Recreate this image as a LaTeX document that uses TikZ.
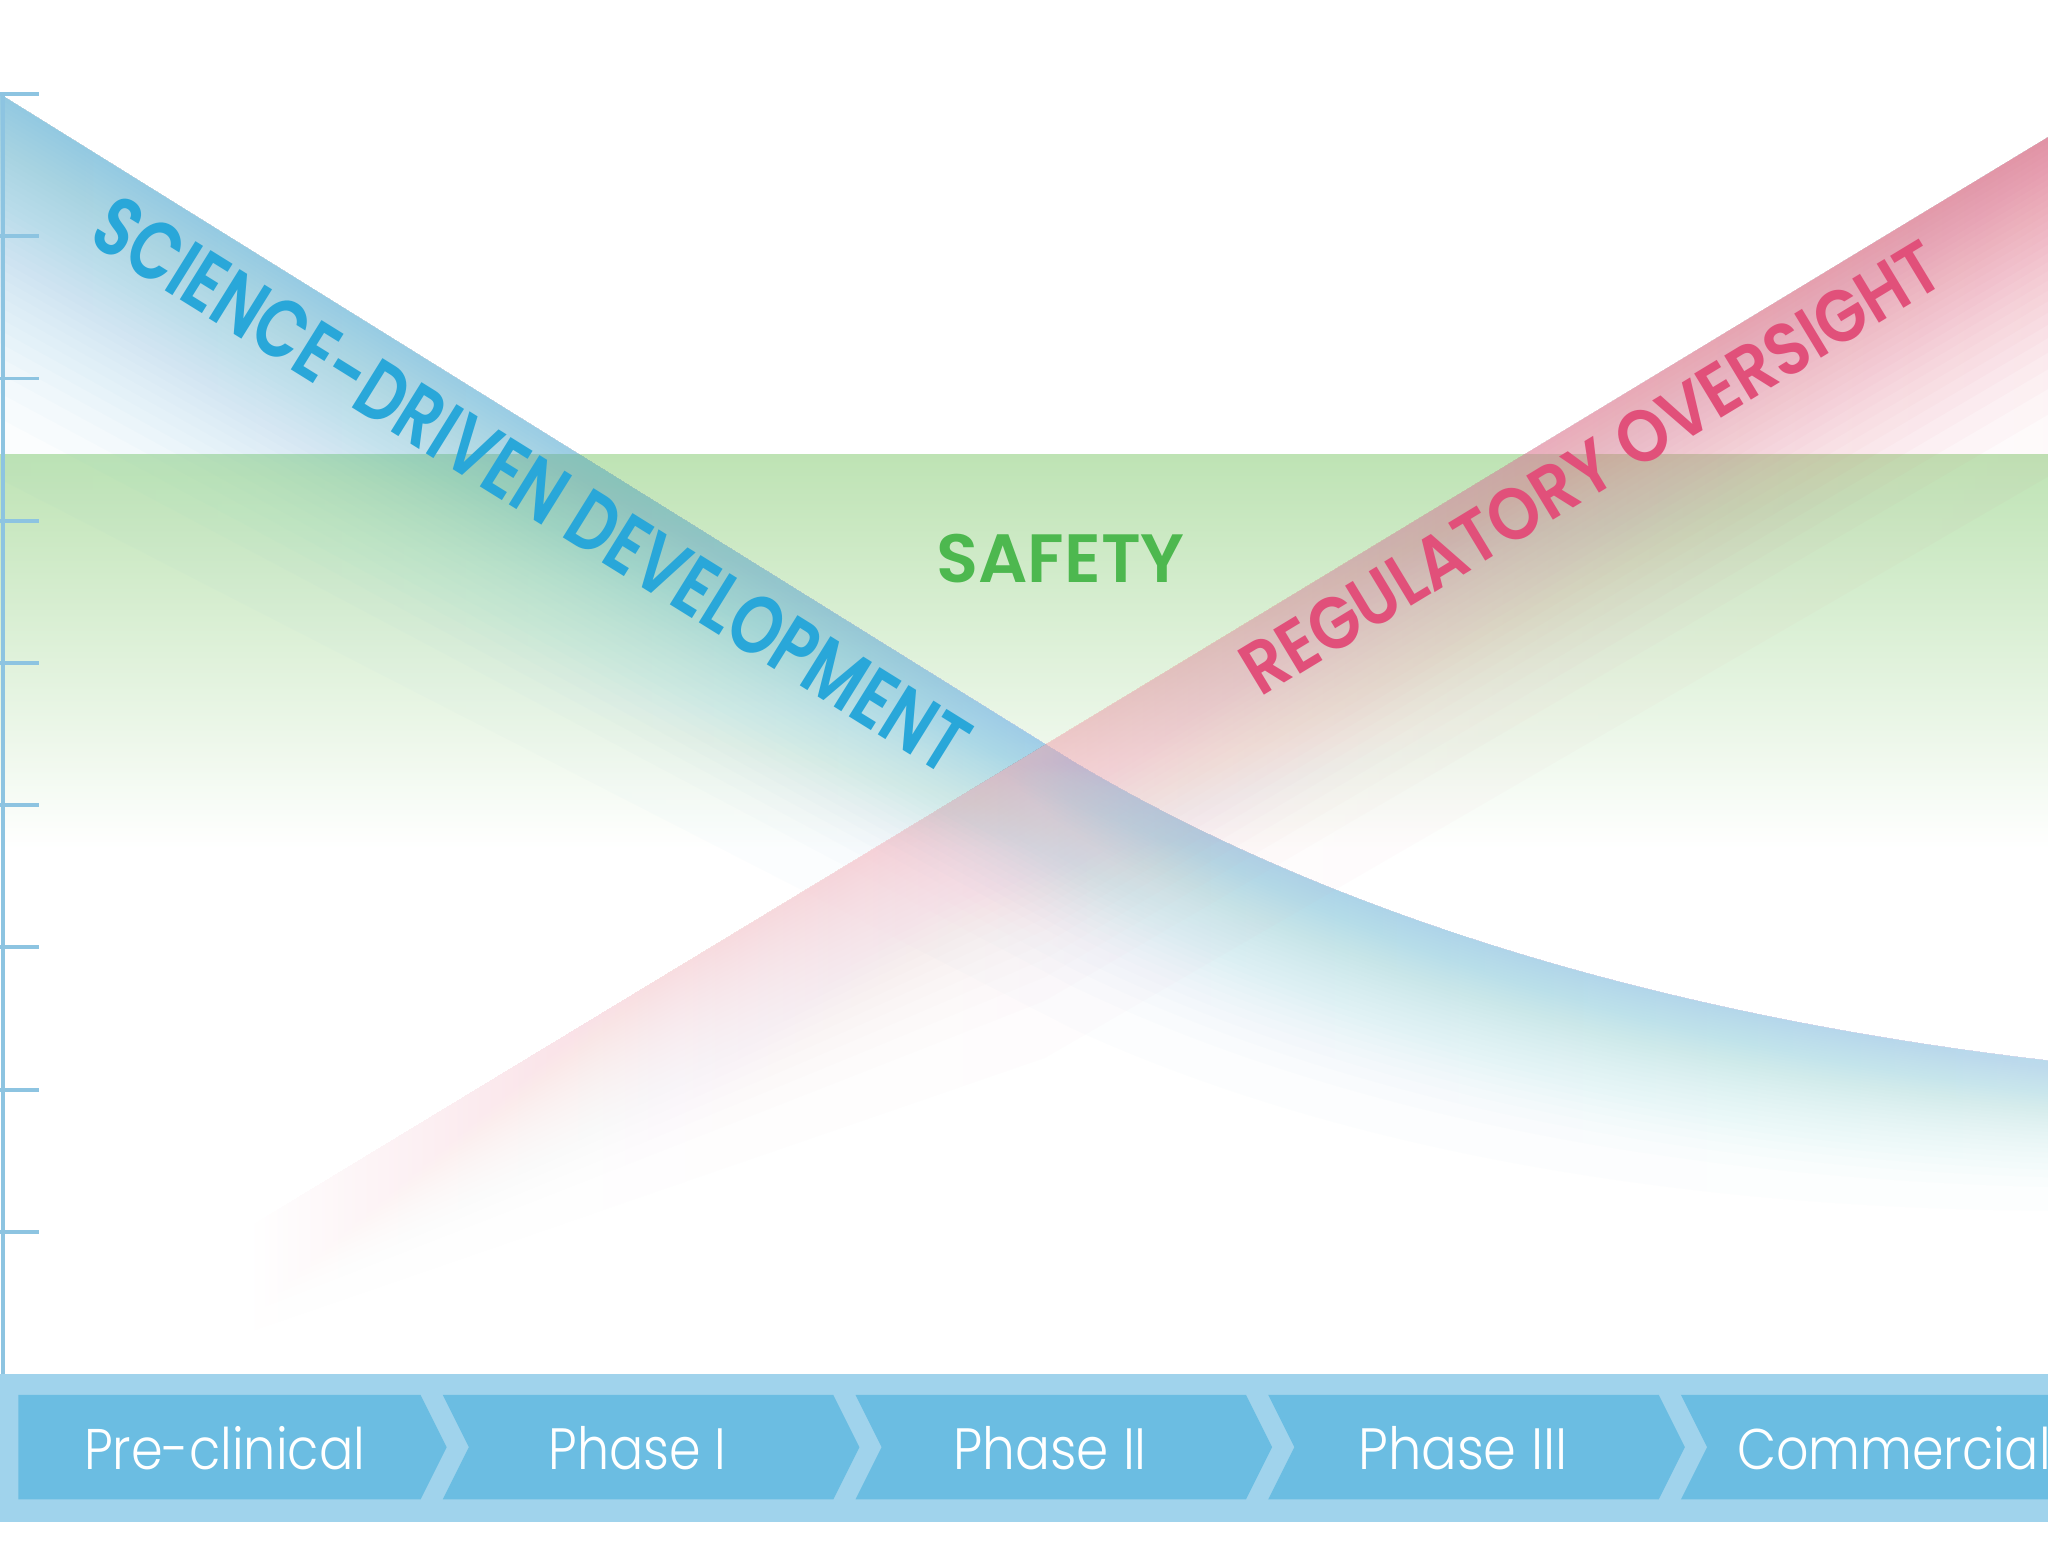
\documentclass[tikz,border=0pt]{standalone}
\usepackage{fontspec}
\setmainfont{Poppins}
\newfontfamily\lightfont{Poppins Light}
\newfontfamily\semifont{Poppins SemiBold}
\definecolor{bandblue}{RGB}{100,185,225}
\definecolor{bandblueR}{RGB}{160,218,236}
\definecolor{bandred}{RGB}{225,95,125}
\definecolor{bandgreen}{RGB}{190,227,180}
\definecolor{txtblue}{RGB}{41,167,217}
\definecolor{txtred}{RGB}{225,80,122}
\definecolor{txtgreen}{RGB}{77,184,79}
\definecolor{axisblue}{RGB}{141,196,225}
\definecolor{barlight}{RGB}{160,211,236}
\definecolor{chevfill}{RGB}{107,189,226}
\tikzset{
  axline/.style={draw=axisblue, line width=0.03cm},
  chevshape/.style={fill=chevfill},
  phaselabel/.style={text=white, inner sep=0pt, font=\lightfont},
  titlelabel/.style={inner sep=0pt, font=\semifont},
}
\begin{document}
\begin{tikzpicture}[x=0.01cm, y=-0.01cm]
\useasboundingbox (0,0) rectangle (1568,1180);
\fill[white] (0,0) rectangle (1568,1180);
\clip (0,0) rectangle (1568,1180);

% safety band
\shade[top color=bandgreen, bottom color=white] (0,348) rectangle (1568,650);

% science-driven band (layered fade, soft tail)
\foreach \k in {1,...,40}{
  \pgfmathsetmacro\myf{1-sqrt(1-\k/40)}
  \shade[left color=bandblue, middle color=bandblue, right color=bandblueR, fill opacity=0.025]
    (0,72) -- (820,582) .. controls (1000,690) and (1250,775) .. (1568,812)
    -- (1568,{812+\myf*115}) .. controls (1250,{775+\myf*150}) and (1000,{690+\myf*180}) .. (820,{582+\myf*205})
    -- (0,{72+\myf*295}) -- cycle;
}

% regulatory band (layered fade, soft tail)
\foreach \k in {1,...,30}{
  \pgfmathsetmacro\myf{1-sqrt(1-\k/30)}
  \shade[left color=white, middle color=bandred!35!white, right color=bandred, fill opacity=0.03]
    (190,940) -- (1568,105) -- (1568,{105+\myf*260}) -- (800,{570+\myf*240}) -- (190,{940+\myf*80}) -- cycle;
}

% axis and ticks
\draw[axline] (2,72) -- (2,1052);
\foreach \tk in {0,...,8}{
  \draw[axline] (0,{72+\tk*108.9}) -- (30,{72+\tk*108.9});
}

% phase bar
\fill[barlight] (0,1052) rectangle (1568,1165);
\fill[chevshape] (14,1068) -- (322,1068) -- (342,1108) -- (322,1148) -- (14,1148) -- cycle;
\foreach \i in {1,...,4}{
  \pgfmathsetmacro\xr{322+316*\i}
  \pgfmathsetmacro\xl{\xr-299}
  \fill[chevshape] (\xl,1068) -- (\xr,1068) -- ({\xr+20},1108) -- (\xr,1148) -- (\xl,1148) -- ({\xl+20},1108) -- cycle;
}
\node[phaselabel] (p0) at (172,1109) {\resizebox{2.15cm}{0.33cm}{Pre-clinical}};
\node[phaselabel] (p1) at (488,1109) {\resizebox{1.36cm}{0.33cm}{Phase I}};
\node[phaselabel] (p2) at (804,1109) {\resizebox{1.48cm}{0.33cm}{Phase II}};
\node[phaselabel] (p3) at (1120,1109) {\resizebox{1.60cm}{0.33cm}{Phase III}};
\node[phaselabel] (p4) at (1450,1109) {\resizebox{2.40cm}{0.33cm}{Commercial}};

% titles
\node[titlelabel, text=txtblue, rotate=-31.9] (sci) at (407,371) {\resizebox{7.75cm}{0.45cm}{SCIENCE-DRIVEN DEVELOPMENT}};
\node[titlelabel, text=txtred, rotate=31.2] (reg) at (1218,358) {\resizebox{6.15cm}{0.40cm}{REGULATORY OVERSIGHT}};
\node[titlelabel, text=txtgreen] (saf) at (812,428) {\resizebox{1.9cm}{0.37cm}{SAFETY}};
\end{tikzpicture}
\end{document}
